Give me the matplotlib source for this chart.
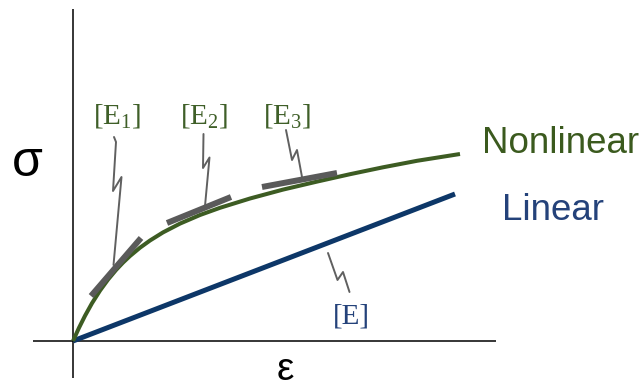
import matplotlib
matplotlib.use("Agg")
import matplotlib.pyplot as plt

plt.rcParams['mathtext.default'] = 'regular'

# Canvas: 1 data unit = 1 pixel, origin of the stress-strain axes at (0, 0)
W, H = 643, 391
X0, Y0 = 73, 341

# Nonlinear stress-strain response (strain, stress)
NONLINEAR_EPS = [0, 6, 12, 19, 27, 35, 43, 50, 57, 67, 77, 90, 107,
                 127, 147, 177, 210, 244, 277, 310, 344, 387]
NONLINEAR_SIG = [0, 13.2, 25.2, 37.8, 50.4, 61.4, 71, 78.4, 85, 93.3, 100.5,
                 108.6, 117.4, 126, 133.2, 142.5, 151.4, 159.4, 166.8, 173.7,
                 180.2, 187]

# Linear response
LINEAR_EPS = [0, 382]
LINEAR_SIG = [0, 147]

# Tangent stiffness segments on the nonlinear curve
TANGENTS = {
    'E1': ([18, 68], [45, 103]),
    'E2': ([94, 158], [118, 144]),
    'E3': ([189, 264], [154, 168]),
}

# Zig-zag leaders from the labels to the segments
LEADERS = {
    'E1': ([41, 43, 40, 48.5, 40.5], [204, 199, 150, 164, 76]),
    'E2': ([130.5, 130, 136.5, 132], [207, 173, 183.5, 135]),
    'E3': ([213, 219, 224, 229], [211, 181, 191, 164]),
    'E': ([255, 264.5, 270, 276.5], [88, 61, 69, 49]),
}

LABELS = {
    'E1': (r'[E$_1$]', 20, 217),
    'E2': (r'[E$_2$]', 107, 217),
    'E3': (r'[E$_3$]', 190, 217),
    'E': ('[E]', 260, 17),
}

GREEN = '#3d5c23'
GREEN_TXT = '#3f5f28'
NAVY = '#0d3768'
NAVY_TXT = '#24427a'
GREY = '#5a5a5a'

fig = plt.figure(figsize=(W / 100, H / 100), dpi=100)
ax = fig.add_axes([0, 0, 1, 1])
ax.set_xlim(-X0, W - X0)
ax.set_ylim(-(H - Y0), Y0)
ax.axis('off')

# Axes lines
ax.plot([0, 0], [-37, 332], color='black', lw=1.1, solid_capstyle='butt')
ax.plot([-40, 423], [0, 0], color='black', lw=1.1, solid_capstyle='butt')

# Curves
ax.plot(LINEAR_EPS, LINEAR_SIG, color=NAVY, lw=3.6, solid_capstyle='butt', zorder=3)
ax.plot(NONLINEAR_EPS, NONLINEAR_SIG, color=GREEN, lw=2.9,
        solid_joinstyle='round', solid_capstyle='butt', zorder=3)

for key, (xs, ys) in TANGENTS.items():
    ax.plot(xs, ys, color=GREY, lw=4.3, solid_capstyle='butt', zorder=4)

for key, (xs, ys) in LEADERS.items():
    ax.plot(xs, ys, color='#606060', lw=1.4, solid_joinstyle='round',
            solid_capstyle='round', zorder=2)

for key, (txt, x, y) in LABELS.items():
    color = NAVY_TXT if key == 'E' else GREEN_TXT
    ax.text(x, y, txt, fontsize=21, family='Liberation Serif', color=color,
            ha='left', va='baseline')

# Curve names and axis symbols
ax.text(409, 188, 'Nonlinear', fontsize=26.5, family='Liberation Sans',
        color='#3b5a1e', ha='left', va='baseline')
ax.text(429, 121, 'Linear', fontsize=26.5, family='Liberation Sans',
        color=NAVY_TXT, ha='left', va='baseline')
ax.text(-46, 178, 'σ', fontsize=36, family='Liberation Sans', color='black',
        ha='center', va='center')
ax.text(212, -29, 'ε', fontsize=28, family='Liberation Sans', color='black',
        ha='center', va='center')

fig.savefig('out.png', dpi=100)
